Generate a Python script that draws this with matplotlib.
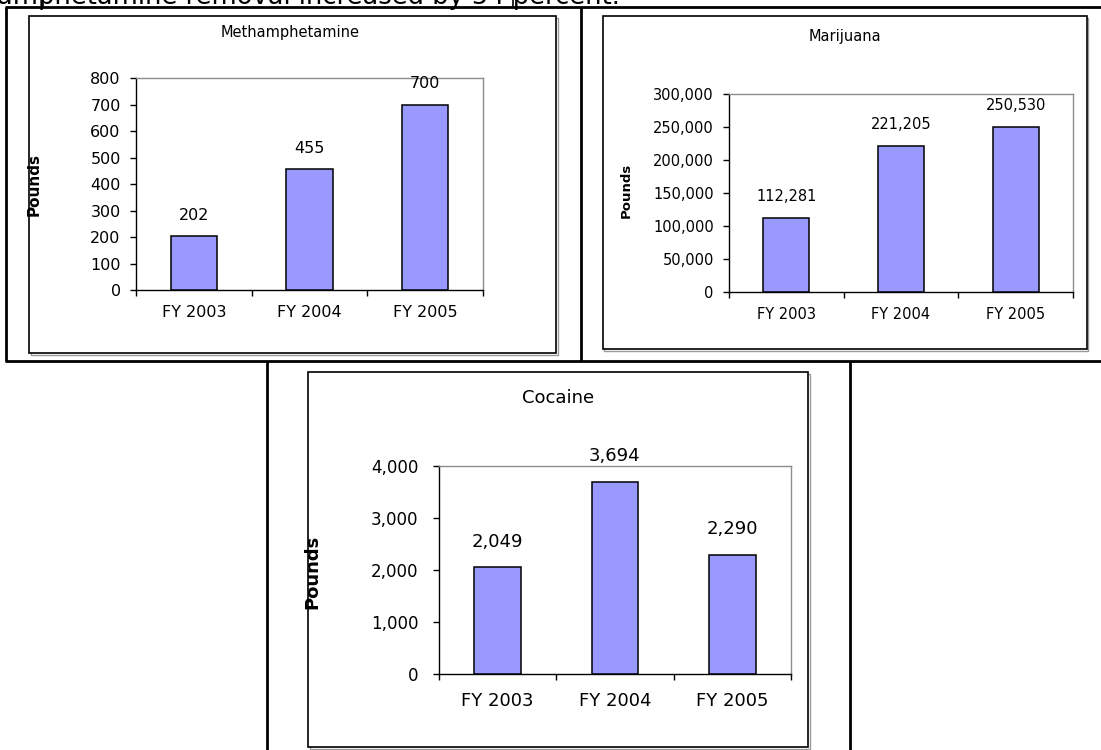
import matplotlib
matplotlib.use("Agg")
import matplotlib.pyplot as plt
from matplotlib.patches import Rectangle
from matplotlib.lines import Line2D
from matplotlib.ticker import FuncFormatter, FixedLocator

plt.rcParams['font.family'] = ['DejaVu Sans']

# ---- data ----
categories = ["FY 2003", "FY 2004", "FY 2005"]
meth_values = [202, 455, 700]
marijuana_values = [112281, 221205, 250530]
cocaine_values = [2049, 3694, 2290]
meth_ticks = [0, 100, 200, 300, 400, 500, 600, 700, 800]
marijuana_ticks = [0, 50000, 100000, 150000, 200000, 250000, 300000]
cocaine_ticks = [0, 1000, 2000, 3000, 4000]
header_text = "amphetamine removal increased by 54 percent."

W, H = 1101, 750
fig = plt.figure(figsize=(W / 100, H / 100), dpi=100)

def fx(x):
    return x / W

def fy(y):
    return 1 - y / H

def rect(x0, y0, x1, y1):
    return [fx(x0), fy(y1), (x1 - x0) / W, (y1 - y0) / H]

def hline(x0, x1, y, lw=2.0, color='black'):
    fig.add_artist(Line2D([fx(x0), fx(x1)], [fy(y), fy(y)], color=color, lw=lw,
                          solid_capstyle='butt', zorder=5))

def vline(x, y0, y1, lw=2.0, color='black'):
    fig.add_artist(Line2D([fx(x), fx(x)], [fy(y0), fy(y1)], color=color, lw=lw,
                          solid_capstyle='butt', zorder=5))

# header text (cut off at top)
fig.text(fx(-3), fy(4), header_text, fontsize=18.5, ha='left', va='baseline',
         color='black')
vline(43, 0, 7, lw=1.2)
vline(513, 0, 7, lw=1.2)

# table lines
hline(5, W, 7)
vline(6, 7, 361)
vline(581, 7, 361)
hline(5, W, 361)
vline(267, 361, H)
vline(850, 361, H)

def chart_box(x0, y0, x1, y1):
    # shadow
    fig.add_artist(Rectangle((fx(x0 + 1.5), fy(y1 + 1.5)), (x1 - x0) / W, (y1 - y0) / H,
                             transform=fig.transFigure, fill=False,
                             edgecolor='#9a9a9a', lw=1.0, zorder=-6))
    fig.add_artist(Rectangle((fx(x0), fy(y1)), (x1 - x0) / W, (y1 - y0) / H,
                             transform=fig.transFigure, facecolor='white',
                             edgecolor='black', lw=1.2, zorder=-5))

def make_chart(box, plot, title, title_xy, values, ticks, fs, yfs, tfs, lfs, label_xy,
               lab_off, ypad, xpad):
    chart_box(*box)
    ax = fig.add_axes(rect(*plot))
    x = list(range(len(categories)))
    ax.bar(x, values, width=0.4, color='#9999FF', edgecolor='black', linewidth=1.1,
           zorder=3)
    ax.set_xlim(-0.5, len(categories) - 0.5)
    ax.set_ylim(ticks[0], ticks[-1])
    ax.set_facecolor('none')
    for s in ['left', 'bottom']:
        ax.spines[s].set_color('black')
        ax.spines[s].set_linewidth(1.0)
    for s in ['top', 'right']:
        ax.spines[s].set_color('#8c8c8c')
        ax.spines[s].set_linewidth(1.0)
    ax.yaxis.set_major_locator(FixedLocator(ticks))
    ax.yaxis.set_major_formatter(FuncFormatter(lambda v, p: f"{int(v):,}"))
    ax.tick_params(axis='y', direction='out', length=4, width=1, pad=ypad,
                   labelsize=yfs, colors='black')
    ax.xaxis.set_major_locator(FixedLocator([i - 0.5 for i in range(len(categories) + 1)]))
    ax.xaxis.set_major_formatter(FuncFormatter(lambda v, p: ""))
    ax.set_xticks(x, categories, minor=True)
    ax.tick_params(axis='x', which='major', direction='out', length=4, width=1)
    ax.tick_params(axis='x', which='minor', length=0, pad=xpad, labelsize=fs)
    for i, v in enumerate(values):
        ax.annotate(f"{v:,}", (i, v), xytext=(0, lab_off), textcoords='offset points',
                    ha='center', va='bottom', fontsize=fs, annotation_clip=False)
    fig.text(fx(title_xy[0]), fy(title_xy[1]), title, ha='center', va='center',
             fontsize=tfs)
    fig.text(fx(label_xy[0]), fy(label_xy[1]), "Pounds", ha='center', va='center',
             rotation=90, fontsize=lfs, fontweight='bold')
    return ax

make_chart((29, 16, 556, 353), (136, 78, 483, 290), "Methamphetamine", (290, 32),
           meth_values, meth_ticks, 11.5, 11.5, 10.5, 11, (34, 184), 10, 7, 11)
make_chart((603, 16, 1087, 349), (729, 94, 1073, 292), "Marijuana", (845, 37),
           marijuana_values, marijuana_ticks, 10.5, 10.5, 10.5, 9.5, (626, 190), 10, 7, 11)
make_chart((308, 372, 808, 747), (439, 466, 791, 674), "Cocaine", (558, 398),
           cocaine_values, cocaine_ticks, 13, 12, 13, 13, (312, 572), 12, 11, 13)

fig.savefig("out.png", dpi=100)
